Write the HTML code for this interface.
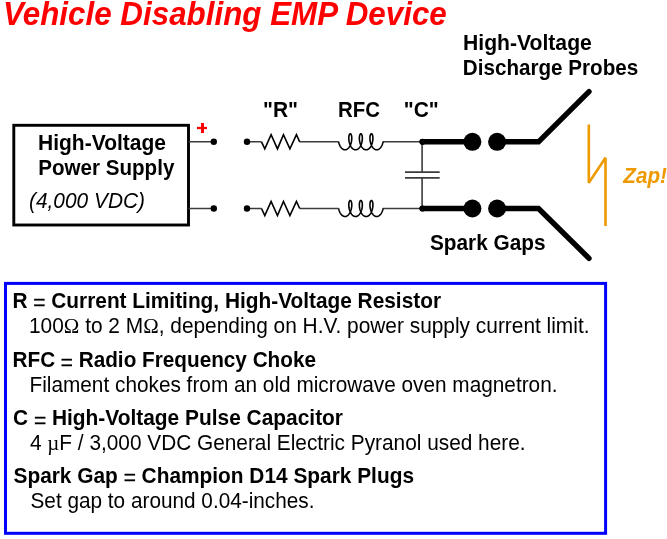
<!DOCTYPE html>
<html><head><meta charset="utf-8"><style>
html,body{margin:0;padding:0;background:#fff;width:667px;height:539px;overflow:hidden}
svg{display:block;position:absolute;left:0;top:0;will-change:transform}
text{font-family:"Liberation Sans",sans-serif}
</style></head><body>
<svg width="667" height="539" viewBox="0 0 667 539">
<text x="3" y="25" font-size="33.2" font-weight="bold" font-style="italic" fill="#FF0000" textLength="443.8" lengthAdjust="spacingAndGlyphs">Vehicle Disabling EMP Device</text>
<rect x="13.8" y="125.3" width="174.7" height="99.7" fill="none" stroke="#000" stroke-width="2.9"/>
<text x="38" y="149.5" font-size="21.3" font-weight="bold" textLength="128" lengthAdjust="spacingAndGlyphs">High-Voltage</text>
<text x="38.2" y="174.6" font-size="21.3" font-weight="bold" textLength="136.2" lengthAdjust="spacingAndGlyphs">Power Supply</text>
<text x="29" y="207.7" font-size="21.3" font-style="italic" textLength="116" lengthAdjust="spacingAndGlyphs">(4,000 VDC)</text>
<path d="M197 128 H207" stroke="#FF0000" stroke-width="2.3" fill="none"/><path d="M202.5 123 V133" stroke="#FF0000" stroke-width="3" fill="none"/>
<path d="M188.5 141.8 H213.8 M247 141.8 H261.5 M299.7 141.8 H338.7 M382.7 141.8 H422.4" stroke="#3c3c3c" stroke-width="1.6" fill="none"/>
<path d="M261.50,141.80 L264.80,148.90 L271.10,134.70 L277.45,148.90 L283.45,134.70 L289.90,148.90 L296.45,134.70 L299.70,141.80" stroke="#000" stroke-width="1.6" fill="none" stroke-linejoin="miter"/>
<path d="M338.61,141.80 L338.71,142.24 L338.82,142.68 L338.94,143.11 L339.07,143.55 L339.21,143.97 L339.36,144.39 L339.53,144.80 L339.70,145.21 L339.89,145.60 L340.09,145.98 L340.29,146.35 L340.50,146.70 L340.73,147.04 L340.96,147.37 L341.20,147.67 L341.45,147.96 L341.70,148.24 L341.96,148.49 L342.23,148.72 L342.50,148.93 L342.78,149.12 L343.07,149.28 L343.35,149.43 L343.64,149.55 L343.94,149.65 L344.23,149.72 L344.53,149.77 L344.83,149.80 L345.13,149.80 L345.43,149.78 L345.72,149.73 L346.02,149.66 L346.31,149.56 L346.60,149.45 L346.89,149.31 L347.18,149.14 L347.46,148.96 L347.73,148.75 L348.00,148.52 L348.26,148.27 L348.52,148.00 L348.77,147.72 L349.01,147.41 L349.24,147.09 L349.46,146.75 L349.68,146.40 L349.89,146.03 L350.08,145.65 L350.27,145.26 L350.45,144.86 L350.61,144.45 L350.77,144.03 L350.91,143.61 L351.05,143.18 L351.17,142.74 L351.28,142.30 L351.38,141.86 L351.47,141.42 L351.54,140.98 L351.61,140.55 L351.66,140.12 L351.71,139.69 L351.74,139.27 L351.76,138.86 L351.77,138.45 L351.78,138.06 L351.77,137.67 L351.75,137.30 L351.72,136.95 L351.68,136.60 L351.64,136.28 L351.58,135.97 L351.52,135.68 L351.45,135.40 L351.38,135.15 L351.29,134.91 L351.21,134.70 L351.11,134.51 L351.02,134.34 L350.91,134.19 L350.81,134.07 L350.70,133.97 L350.59,133.89 L350.48,133.84 L350.37,133.81 L350.25,133.80 L350.14,133.82 L350.03,133.86 L349.91,133.93 L349.81,134.02 L349.70,134.14 L349.60,134.27 L349.50,134.43 L349.40,134.62 L349.31,134.82 L349.23,135.05 L349.15,135.29 L349.08,135.56 L349.01,135.84 L348.95,136.14 L348.90,136.46 L348.86,136.80 L348.83,137.15 L348.81,137.51 L348.80,137.89 L348.79,138.28 L348.80,138.68 L348.82,139.09 L348.84,139.51 L348.88,139.93 L348.93,140.36 L348.99,140.80 L349.07,141.23 L349.15,141.67 L349.25,142.11 L349.35,142.55 L349.47,142.99 L349.60,143.42 L349.74,143.85 L349.89,144.27 L350.05,144.69 L350.22,145.09 L350.40,145.49 L350.60,145.87 L350.80,146.24 L351.01,146.60 L351.23,146.95 L351.46,147.28 L351.70,147.59 L351.94,147.88 L352.20,148.16 L352.46,148.42 L352.72,148.65 L352.99,148.87 L353.27,149.07 L353.55,149.24 L353.84,149.39 L354.13,149.52 L354.42,149.62 L354.72,149.70 L355.01,149.76 L355.31,149.79 L355.61,149.80 L355.91,149.78 L356.21,149.74 L356.50,149.68 L356.80,149.59 L357.09,149.48 L357.38,149.35 L357.66,149.19 L357.94,149.01 L358.22,148.81 L358.49,148.59 L358.75,148.35 L359.01,148.08 L359.26,147.80 L359.51,147.50 L359.74,147.18 L359.97,146.85 L360.19,146.50 L360.40,146.14 L360.60,145.76 L360.79,145.38 L360.97,144.98 L361.13,144.57 L361.29,144.15 L361.44,143.73 L361.58,143.30 L361.70,142.86 L361.82,142.43 L361.92,141.99 L362.01,141.55 L362.09,141.11 L362.16,140.67 L362.22,140.24 L362.27,139.81 L362.30,139.39 L362.33,138.97 L362.34,138.57 L362.34,138.17 L362.34,137.78 L362.32,137.41 L362.30,137.05 L362.26,136.70 L362.22,136.37 L362.17,136.05 L362.11,135.76 L362.04,135.48 L361.97,135.22 L361.89,134.98 L361.80,134.76 L361.71,134.56 L361.61,134.39 L361.51,134.23 L361.41,134.10 L361.30,133.99 L361.19,133.91 L361.08,133.85 L360.97,133.81 L360.85,133.80 L360.74,133.81 L360.63,133.85 L360.51,133.91 L360.40,133.99 L360.30,134.10 L360.19,134.23 L360.09,134.39 L360.00,134.56 L359.90,134.76 L359.82,134.98 L359.74,135.22 L359.66,135.48 L359.60,135.76 L359.54,136.05 L359.49,136.37 L359.44,136.70 L359.41,137.05 L359.38,137.41 L359.37,137.78 L359.36,138.17 L359.36,138.57 L359.38,138.97 L359.40,139.39 L359.44,139.81 L359.49,140.24 L359.54,140.67 L359.61,141.11 L359.69,141.55 L359.79,141.99 L359.89,142.43 L360.00,142.86 L360.13,143.30 L360.26,143.73 L360.41,144.15 L360.57,144.57 L360.74,144.98 L360.92,145.38 L361.11,145.76 L361.31,146.14 L361.52,146.50 L361.74,146.85 L361.96,147.18 L362.20,147.50 L362.44,147.80 L362.69,148.08 L362.95,148.35 L363.21,148.59 L363.48,148.81 L363.76,149.01 L364.04,149.19 L364.33,149.35 L364.61,149.48 L364.91,149.59 L365.20,149.68 L365.50,149.74 L365.80,149.78 L366.09,149.80 L366.39,149.79 L366.69,149.76 L366.99,149.70 L367.28,149.62 L367.58,149.52 L367.87,149.39 L368.15,149.24 L368.43,149.07 L368.71,148.87 L368.98,148.65 L369.25,148.42 L369.51,148.16 L369.76,147.88 L370.01,147.59 L370.24,147.28 L370.47,146.95 L370.69,146.60 L370.91,146.24 L371.11,145.87 L371.30,145.49 L371.48,145.09 L371.66,144.69 L371.82,144.27 L371.97,143.85 L372.11,143.42 L372.24,142.99 L372.35,142.55 L372.46,142.11 L372.55,141.67 L372.64,141.23 L372.71,140.80 L372.77,140.36 L372.82,139.93 L372.86,139.51 L372.89,139.09 L372.91,138.68 L372.91,138.28 L372.91,137.89 L372.90,137.51 L372.87,137.15 L372.84,136.80 L372.80,136.46 L372.75,136.14 L372.69,135.84 L372.63,135.56 L372.56,135.29 L372.48,135.05 L372.39,134.82 L372.30,134.62 L372.21,134.43 L372.11,134.27 L372.01,134.14 L371.90,134.02 L371.79,133.93 L371.68,133.86 L371.57,133.82 L371.45,133.80 L371.34,133.81 L371.23,133.84 L371.11,133.89 L371.00,133.97 L370.90,134.07 L370.79,134.19 L370.69,134.34 L370.59,134.51 L370.50,134.70 L370.41,134.91 L370.33,135.15 L370.25,135.40 L370.18,135.68 L370.12,135.97 L370.07,136.28 L370.02,136.60 L369.99,136.95 L369.96,137.30 L369.94,137.67 L369.93,138.06 L369.93,138.45 L369.94,138.86 L369.96,139.27 L370.00,139.69 L370.04,140.12 L370.09,140.55 L370.16,140.98 L370.24,141.42 L370.33,141.86 L370.43,142.30 L370.54,142.74 L370.66,143.18 L370.79,143.61 L370.94,144.03 L371.09,144.45 L371.26,144.86 L371.44,145.26 L371.62,145.65 L371.82,146.03 L372.03,146.40 L372.24,146.75 L372.47,147.09 L372.70,147.41 L372.94,147.72 L373.19,148.00 L373.44,148.27 L373.71,148.52 L373.98,148.75 L374.25,148.96 L374.53,149.14 L374.81,149.31 L375.10,149.45 L375.39,149.56 L375.69,149.66 L375.98,149.73 L376.28,149.78 L376.58,149.80 L376.88,149.80 L377.17,149.77 L377.47,149.72 L377.77,149.65 L378.06,149.55 L378.35,149.43 L378.64,149.28 L378.92,149.12 L379.20,148.93 L379.47,148.72 L379.74,148.49 L380.00,148.24 L380.26,147.96 L380.51,147.67 L380.75,147.37 L380.98,147.04 L381.20,146.70 L381.41,146.35 L381.62,145.98 L381.82,145.60 L382.00,145.21 L382.18,144.80 L382.34,144.39 L382.49,143.97 L382.64,143.55 L382.77,143.11 L382.89,142.68 L383.00,142.24 L383.10,141.80" stroke="#000" stroke-width="1.6" fill="none"/>
<path d="M188.5 208.5 H213.8 M247 208.5 H261.5 M299.7 208.5 H338.7 M382.7 208.5 H422.4" stroke="#3c3c3c" stroke-width="1.6" fill="none"/>
<path d="M261.50,208.50 L264.80,215.60 L271.10,201.40 L277.45,215.60 L283.45,201.40 L289.90,215.60 L296.45,201.40 L299.70,208.50" stroke="#000" stroke-width="1.6" fill="none" stroke-linejoin="miter"/>
<path d="M338.61,208.50 L338.71,208.94 L338.82,209.38 L338.94,209.81 L339.07,210.25 L339.21,210.67 L339.36,211.09 L339.53,211.50 L339.70,211.91 L339.89,212.30 L340.09,212.68 L340.29,213.05 L340.50,213.40 L340.73,213.74 L340.96,214.07 L341.20,214.37 L341.45,214.66 L341.70,214.94 L341.96,215.19 L342.23,215.42 L342.50,215.63 L342.78,215.82 L343.07,215.98 L343.35,216.13 L343.64,216.25 L343.94,216.35 L344.23,216.42 L344.53,216.47 L344.83,216.50 L345.13,216.50 L345.43,216.48 L345.72,216.43 L346.02,216.36 L346.31,216.26 L346.60,216.15 L346.89,216.01 L347.18,215.84 L347.46,215.66 L347.73,215.45 L348.00,215.22 L348.26,214.97 L348.52,214.70 L348.77,214.42 L349.01,214.11 L349.24,213.79 L349.46,213.45 L349.68,213.10 L349.89,212.73 L350.08,212.35 L350.27,211.96 L350.45,211.56 L350.61,211.15 L350.77,210.73 L350.91,210.31 L351.05,209.88 L351.17,209.44 L351.28,209.00 L351.38,208.56 L351.47,208.12 L351.54,207.68 L351.61,207.25 L351.66,206.82 L351.71,206.39 L351.74,205.97 L351.76,205.56 L351.77,205.15 L351.78,204.76 L351.77,204.37 L351.75,204.00 L351.72,203.65 L351.68,203.30 L351.64,202.98 L351.58,202.67 L351.52,202.38 L351.45,202.10 L351.38,201.85 L351.29,201.61 L351.21,201.40 L351.11,201.21 L351.02,201.04 L350.91,200.89 L350.81,200.77 L350.70,200.67 L350.59,200.59 L350.48,200.54 L350.37,200.51 L350.25,200.50 L350.14,200.52 L350.03,200.56 L349.91,200.63 L349.81,200.72 L349.70,200.84 L349.60,200.97 L349.50,201.13 L349.40,201.32 L349.31,201.52 L349.23,201.75 L349.15,201.99 L349.08,202.26 L349.01,202.54 L348.95,202.84 L348.90,203.16 L348.86,203.50 L348.83,203.85 L348.81,204.21 L348.80,204.59 L348.79,204.98 L348.80,205.38 L348.82,205.79 L348.84,206.21 L348.88,206.63 L348.93,207.06 L348.99,207.50 L349.07,207.93 L349.15,208.37 L349.25,208.81 L349.35,209.25 L349.47,209.69 L349.60,210.12 L349.74,210.55 L349.89,210.97 L350.05,211.39 L350.22,211.79 L350.40,212.19 L350.60,212.57 L350.80,212.94 L351.01,213.30 L351.23,213.65 L351.46,213.98 L351.70,214.29 L351.94,214.58 L352.20,214.86 L352.46,215.12 L352.72,215.35 L352.99,215.57 L353.27,215.77 L353.55,215.94 L353.84,216.09 L354.13,216.22 L354.42,216.32 L354.72,216.40 L355.01,216.46 L355.31,216.49 L355.61,216.50 L355.91,216.48 L356.21,216.44 L356.50,216.38 L356.80,216.29 L357.09,216.18 L357.38,216.05 L357.66,215.89 L357.94,215.71 L358.22,215.51 L358.49,215.29 L358.75,215.05 L359.01,214.78 L359.26,214.50 L359.51,214.20 L359.74,213.88 L359.97,213.55 L360.19,213.20 L360.40,212.84 L360.60,212.46 L360.79,212.08 L360.97,211.68 L361.13,211.27 L361.29,210.85 L361.44,210.43 L361.58,210.00 L361.70,209.56 L361.82,209.13 L361.92,208.69 L362.01,208.25 L362.09,207.81 L362.16,207.37 L362.22,206.94 L362.27,206.51 L362.30,206.09 L362.33,205.67 L362.34,205.27 L362.34,204.87 L362.34,204.48 L362.32,204.11 L362.30,203.75 L362.26,203.40 L362.22,203.07 L362.17,202.75 L362.11,202.46 L362.04,202.18 L361.97,201.92 L361.89,201.68 L361.80,201.46 L361.71,201.26 L361.61,201.09 L361.51,200.93 L361.41,200.80 L361.30,200.69 L361.19,200.61 L361.08,200.55 L360.97,200.51 L360.85,200.50 L360.74,200.51 L360.63,200.55 L360.51,200.61 L360.40,200.69 L360.30,200.80 L360.19,200.93 L360.09,201.09 L360.00,201.26 L359.90,201.46 L359.82,201.68 L359.74,201.92 L359.66,202.18 L359.60,202.46 L359.54,202.75 L359.49,203.07 L359.44,203.40 L359.41,203.75 L359.38,204.11 L359.37,204.48 L359.36,204.87 L359.36,205.27 L359.38,205.67 L359.40,206.09 L359.44,206.51 L359.49,206.94 L359.54,207.37 L359.61,207.81 L359.69,208.25 L359.79,208.69 L359.89,209.13 L360.00,209.56 L360.13,210.00 L360.26,210.43 L360.41,210.85 L360.57,211.27 L360.74,211.68 L360.92,212.08 L361.11,212.46 L361.31,212.84 L361.52,213.20 L361.74,213.55 L361.96,213.88 L362.20,214.20 L362.44,214.50 L362.69,214.78 L362.95,215.05 L363.21,215.29 L363.48,215.51 L363.76,215.71 L364.04,215.89 L364.33,216.05 L364.61,216.18 L364.91,216.29 L365.20,216.38 L365.50,216.44 L365.80,216.48 L366.09,216.50 L366.39,216.49 L366.69,216.46 L366.99,216.40 L367.28,216.32 L367.58,216.22 L367.87,216.09 L368.15,215.94 L368.43,215.77 L368.71,215.57 L368.98,215.35 L369.25,215.12 L369.51,214.86 L369.76,214.58 L370.01,214.29 L370.24,213.98 L370.47,213.65 L370.69,213.30 L370.91,212.94 L371.11,212.57 L371.30,212.19 L371.48,211.79 L371.66,211.39 L371.82,210.97 L371.97,210.55 L372.11,210.12 L372.24,209.69 L372.35,209.25 L372.46,208.81 L372.55,208.37 L372.64,207.93 L372.71,207.50 L372.77,207.06 L372.82,206.63 L372.86,206.21 L372.89,205.79 L372.91,205.38 L372.91,204.98 L372.91,204.59 L372.90,204.21 L372.87,203.85 L372.84,203.50 L372.80,203.16 L372.75,202.84 L372.69,202.54 L372.63,202.26 L372.56,201.99 L372.48,201.75 L372.39,201.52 L372.30,201.32 L372.21,201.13 L372.11,200.97 L372.01,200.84 L371.90,200.72 L371.79,200.63 L371.68,200.56 L371.57,200.52 L371.45,200.50 L371.34,200.51 L371.23,200.54 L371.11,200.59 L371.00,200.67 L370.90,200.77 L370.79,200.89 L370.69,201.04 L370.59,201.21 L370.50,201.40 L370.41,201.61 L370.33,201.85 L370.25,202.10 L370.18,202.38 L370.12,202.67 L370.07,202.98 L370.02,203.30 L369.99,203.65 L369.96,204.00 L369.94,204.37 L369.93,204.76 L369.93,205.15 L369.94,205.56 L369.96,205.97 L370.00,206.39 L370.04,206.82 L370.09,207.25 L370.16,207.68 L370.24,208.12 L370.33,208.56 L370.43,209.00 L370.54,209.44 L370.66,209.88 L370.79,210.31 L370.94,210.73 L371.09,211.15 L371.26,211.56 L371.44,211.96 L371.62,212.35 L371.82,212.73 L372.03,213.10 L372.24,213.45 L372.47,213.79 L372.70,214.11 L372.94,214.42 L373.19,214.70 L373.44,214.97 L373.71,215.22 L373.98,215.45 L374.25,215.66 L374.53,215.84 L374.81,216.01 L375.10,216.15 L375.39,216.26 L375.69,216.36 L375.98,216.43 L376.28,216.48 L376.58,216.50 L376.88,216.50 L377.17,216.47 L377.47,216.42 L377.77,216.35 L378.06,216.25 L378.35,216.13 L378.64,215.98 L378.92,215.82 L379.20,215.63 L379.47,215.42 L379.74,215.19 L380.00,214.94 L380.26,214.66 L380.51,214.37 L380.75,214.07 L380.98,213.74 L381.20,213.40 L381.41,213.05 L381.62,212.68 L381.82,212.30 L382.00,211.91 L382.18,211.50 L382.34,211.09 L382.49,210.67 L382.64,210.25 L382.77,209.81 L382.89,209.38 L383.00,208.94 L383.10,208.50" stroke="#000" stroke-width="1.6" fill="none"/>
<path d="M422.1 141.8 V172.1 M422.1 177.9 V208.5" stroke="#3c3c3c" stroke-width="1.6" fill="none"/>
<path d="M405 172.1 H439.7 M405 177.9 H439.7" stroke="#3c3c3c" stroke-width="1.6" fill="none"/>
<path d="M422.4 141.8 H472.4 M497.1 141.8 H538.5 L589 91.6" stroke="#000" stroke-width="5.4" fill="none" stroke-linecap="round" stroke-linejoin="miter"/>
<path d="M422.4 208.5 H472.4 M497.1 208.5 H538.5 L589 258.3" stroke="#000" stroke-width="5.4" fill="none" stroke-linecap="round" stroke-linejoin="miter"/>
<circle cx="213.8" cy="141.8" r="3.2" fill="#000"/>
<circle cx="247" cy="141.8" r="3.2" fill="#000"/>
<circle cx="422.4" cy="141.8" r="3.1" fill="#000"/>
<circle cx="472.4" cy="141.8" r="9" fill="#000"/>
<circle cx="497.1" cy="141.8" r="9" fill="#000"/>
<circle cx="213.8" cy="208.5" r="3.2" fill="#000"/>
<circle cx="247" cy="208.5" r="3.2" fill="#000"/>
<circle cx="422.4" cy="208.5" r="3.1" fill="#000"/>
<circle cx="472.4" cy="208.5" r="9" fill="#000"/>
<circle cx="497.1" cy="208.5" r="9" fill="#000"/>
<path d="M588.8 124.5 V182.9 L605.5 157.8 V226" stroke="#EE9900" stroke-width="2.6" fill="none" stroke-linejoin="miter" stroke-miterlimit="1.5"/>
<text x="623.3" y="183.4" font-size="21.3" font-weight="bold" font-style="italic" fill="#EE9900" textLength="43.7" lengthAdjust="spacingAndGlyphs">Zap!</text>
<text x="263" y="117" font-size="21.3" font-weight="bold" textLength="35" lengthAdjust="spacingAndGlyphs">"R"</text>
<text x="338" y="117" font-size="21.3" font-weight="bold" textLength="42" lengthAdjust="spacingAndGlyphs">RFC</text>
<text x="403.8" y="117" font-size="21.3" font-weight="bold" textLength="35" lengthAdjust="spacingAndGlyphs">"C"</text>
<text x="463" y="49.8" font-size="21.3" font-weight="bold" textLength="128.8" lengthAdjust="spacingAndGlyphs">High-Voltage</text>
<text x="462.8" y="75.4" font-size="21.3" font-weight="bold" textLength="175.5" lengthAdjust="spacingAndGlyphs">Discharge Probes</text>
<text x="430" y="250" font-size="21.3" font-weight="bold" textLength="115.5" lengthAdjust="spacingAndGlyphs">Spark Gaps</text>
<rect x="5.5" y="283.4" width="600.1" height="249.89999999999998" fill="none" stroke="#0000FF" stroke-width="3"/>
<text x="12.5" y="307.5" font-size="21.3" font-weight="bold" textLength="428.5" lengthAdjust="spacingAndGlyphs">R <tspan font-weight="normal" dy="2.8" stroke="#000" stroke-width="0.35">=</tspan><tspan dy="-2.8"> Current Limiting, High-Voltage Resistor</tspan></text>
<text x="29" y="333.4" font-size="21.3" textLength="560.5" lengthAdjust="spacingAndGlyphs">100<tspan font-family="Liberation Serif">Ω</tspan> to 2 M<tspan font-family="Liberation Serif">Ω</tspan>, depending on H.V. power supply current limit.</text>
<text x="12.5" y="367" font-size="21.3" font-weight="bold" textLength="303.5" lengthAdjust="spacingAndGlyphs">RFC <tspan font-weight="normal" dy="2.8" stroke="#000" stroke-width="0.35">=</tspan><tspan dy="-2.8"> Radio Frequency Choke</tspan></text>
<text x="29.5" y="391.7" font-size="21.3" textLength="528" lengthAdjust="spacingAndGlyphs">Filament chokes from an old microwave oven magnetron.</text>
<text x="13" y="424.8" font-size="21.3" font-weight="bold" textLength="330" lengthAdjust="spacingAndGlyphs">C <tspan font-weight="normal" dy="2.8" stroke="#000" stroke-width="0.35">=</tspan><tspan dy="-2.8"> High-Voltage Pulse Capacitor</tspan></text>
<text x="30" y="449.8" font-size="21.3" textLength="495.5" lengthAdjust="spacingAndGlyphs">4 <tspan font-family="Liberation Serif">µ</tspan>F / 3,000 VDC General Electric Pyranol used here.</text>
<text x="13.5" y="482.5" font-size="21.3" font-weight="bold" textLength="400.5" lengthAdjust="spacingAndGlyphs">Spark Gap <tspan font-weight="normal" dy="2.8" stroke="#000" stroke-width="0.35">=</tspan><tspan dy="-2.8"> Champion D14 Spark Plugs</tspan></text>
<text x="30.5" y="507.5" font-size="21.3" textLength="284" lengthAdjust="spacingAndGlyphs">Set gap to around 0.04-inches.</text>
</svg>
</body></html>
